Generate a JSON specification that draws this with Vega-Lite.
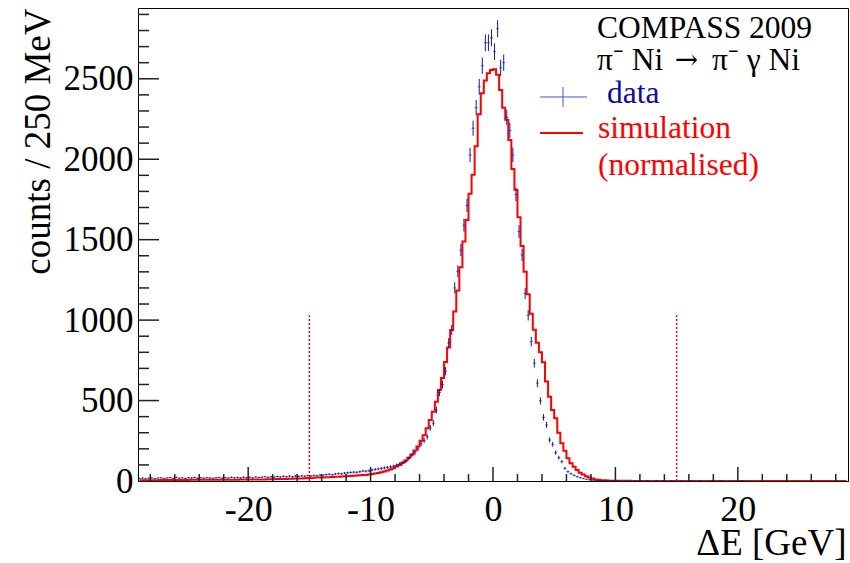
{
"$schema": "https://vega.github.io/schema/vega-lite/v6.json",
"width": 710, "height": 473,
"autosize": {"type": "none"},
"padding": {"left": 138, "top": 8, "right": 2, "bottom": 82},
"background": "white",
"config": {"font": "Liberation Serif", "view": {"stroke": "black", "strokeWidth": 1}, "axis": {"grid": false, "domainColor": "black", "labelColor": "black", "titleColor": "black", "titleFontWeight": "normal", "labelFont": "Liberation Serif", "titleFont": "Liberation Serif"}},
"data": {"values": [{}]},
"datasets": {
"h": [
{"x":-28.875,"d":16,"e":4,"s":5},{"x":-28.625,"d":18,"e":4.2,"s":5},{"x":-28.375,"d":14,"e":3.7,"s":5},{"x":-28.125,"d":17,"e":4.1,"s":5},{"x":-27.875,"d":19,"e":4.4,"s":5},{"x":-27.625,"d":15,"e":3.9,"s":5},{"x":-27.375,"d":18,"e":4.2,"s":5},{"x":-27.125,"d":20,"e":4.5,"s":6},{"x":-26.875,"d":16,"e":4,"s":6},{"x":-26.625,"d":19,"e":4.4,"s":6},{"x":-26.375,"d":21,"e":4.6,"s":6},{"x":-26.125,"d":17,"e":4.1,"s":6},{"x":-25.875,"d":22,"e":4.7,"s":6},{"x":-25.625,"d":18,"e":4.2,"s":6},{"x":-25.375,"d":20,"e":4.5,"s":6},{"x":-25.125,"d":16,"e":4,"s":6},{"x":-24.875,"d":21,"e":4.6,"s":6},{"x":-24.625,"d":19,"e":4.4,"s":7},{"x":-24.375,"d":22,"e":4.7,"s":7},{"x":-24.125,"d":17,"e":4.1,"s":7},{"x":-23.875,"d":20,"e":4.5,"s":7},{"x":-23.625,"d":18,"e":4.2,"s":7},{"x":-23.375,"d":21,"e":4.6,"s":7},{"x":-23.125,"d":19,"e":4.4,"s":7},{"x":-22.875,"d":17,"e":4.1,"s":7},{"x":-22.625,"d":20,"e":4.5,"s":7},{"x":-22.375,"d":22,"e":4.7,"s":7},{"x":-22.125,"d":18,"e":4.2,"s":8},{"x":-21.875,"d":21,"e":4.6,"s":8},{"x":-21.625,"d":19,"e":4.4,"s":8},{"x":-21.375,"d":23,"e":4.8,"s":8},{"x":-21.125,"d":20,"e":4.5,"s":8},{"x":-20.875,"d":22,"e":4.7,"s":8},{"x":-20.625,"d":19,"e":4.4,"s":9},{"x":-20.375,"d":24,"e":4.9,"s":9},{"x":-20.125,"d":21,"e":4.6,"s":9},
{"x":-19.875,"d":23,"e":4.8,"s":9},{"x":-19.625,"d":20,"e":4.5,"s":9},{"x":-19.375,"d":25,"e":5,"s":10},{"x":-19.125,"d":22,"e":4.7,"s":10},{"x":-18.875,"d":24,"e":4.9,"s":10},{"x":-18.625,"d":27,"e":5.2,"s":10},{"x":-18.375,"d":23,"e":4.8,"s":11},{"x":-18.125,"d":26,"e":5.1,"s":11},{"x":-17.875,"d":24,"e":4.9,"s":11},{"x":-17.625,"d":28,"e":5.3,"s":12},{"x":-17.375,"d":25,"e":5,"s":12},{"x":-17.125,"d":29,"e":5.4,"s":12},{"x":-16.875,"d":27,"e":5.2,"s":13},{"x":-16.625,"d":30,"e":5.5,"s":14},{"x":-16.375,"d":26,"e":5.1,"s":14},{"x":-16.125,"d":31,"e":5.6,"s":15},{"x":-15.875,"d":29,"e":5.4,"s":16},{"x":-15.625,"d":32,"e":5.7,"s":16},{"x":-15.375,"d":30,"e":5.5,"s":17},{"x":-15.125,"d":34,"e":5.8,"s":18},
{"x":-14.875,"d":32,"e":5.7,"s":19},{"x":-14.625,"d":35,"e":5.9,"s":20},{"x":-14.375,"d":33,"e":5.7,"s":21},{"x":-14.125,"d":37,"e":6.1,"s":21},{"x":-13.875,"d":36,"e":6,"s":22},{"x":-13.625,"d":40,"e":6.3,"s":23},{"x":-13.375,"d":42,"e":6.5,"s":24},{"x":-13.125,"d":39,"e":6.2,"s":25},{"x":-12.875,"d":44,"e":6.6,"s":26},{"x":-12.625,"d":46,"e":6.8,"s":27},{"x":-12.375,"d":45,"e":6.7,"s":28},{"x":-12.125,"d":49,"e":7,"s":29},{"x":-11.875,"d":51,"e":7.1,"s":30},{"x":-11.625,"d":53,"e":7.3,"s":31},{"x":-11.375,"d":55,"e":7.4,"s":33},{"x":-11.125,"d":54,"e":7.3,"s":34},{"x":-10.875,"d":58,"e":7.6,"s":35},{"x":-10.625,"d":62,"e":7.9,"s":37},{"x":-10.375,"d":61,"e":7.8,"s":38},{"x":-10.125,"d":64,"e":8,"s":40},
{"x":-9.875,"d":68,"e":8.2,"s":43},{"x":-9.625,"d":72,"e":8.5,"s":46},{"x":-9.375,"d":75,"e":8.7,"s":50},{"x":-9.125,"d":78,"e":8.8,"s":54},{"x":-8.875,"d":82,"e":9.1,"s":59},{"x":-8.625,"d":85,"e":9.2,"s":65},{"x":-8.375,"d":88,"e":9.4,"s":72},{"x":-8.125,"d":92,"e":9.6,"s":80},
{"x":-7.875,"d":98,"e":9.9,"s":90},{"x":-7.625,"d":106,"e":10.3,"s":100},{"x":-7.375,"d":112,"e":10.6,"s":113},{"x":-7.125,"d":122,"e":11,"s":128},{"x":-6.875,"d":141,"e":11.9,"s":145},{"x":-6.625,"d":160,"e":12.6,"s":165},{"x":-6.375,"d":176,"e":13.3,"s":190},{"x":-6.125,"d":200,"e":14.1,"s":215},{"x":-5.875,"d":232,"e":15.2,"s":250},{"x":-5.625,"d":252,"e":15.9,"s":285},{"x":-5.375,"d":274,"e":16.6,"s":328},{"x":-5.125,"d":330,"e":18.2,"s":379},{"x":-4.875,"d":360,"e":19,"s":431},{"x":-4.625,"d":441,"e":21,"s":493},{"x":-4.375,"d":550,"e":23.5,"s":566},{"x":-4.125,"d":600,"e":24.5,"s":640},{"x":-3.875,"d":682,"e":26.1,"s":740},{"x":-3.625,"d":858,"e":29.3,"s":830},{"x":-3.375,"d":939,"e":30.6,"s":939},{"x":-3.125,"d":1200,"e":34.6,"s":1053},{"x":-2.875,"d":1304,"e":36.1,"s":1184},{"x":-2.625,"d":1435,"e":37.9,"s":1329},{"x":-2.375,"d":1590,"e":39.9,"s":1488},{"x":-2.125,"d":1713,"e":41.4,"s":1623},{"x":-1.875,"d":2027,"e":45,"s":1785},{"x":-1.625,"d":2193,"e":46.8,"s":1903},{"x":-1.375,"d":2320,"e":48.2,"s":2080},{"x":-1.125,"d":2450,"e":49.5,"s":2280},{"x":-0.875,"d":2581,"e":50.8,"s":2410},{"x":-0.625,"d":2724,"e":52.2,"s":2490},{"x":-0.375,"d":2724,"e":52.2,"s":2535},{"x":-0.125,"d":2755,"e":52.5,"s":2555},
{"x":0.125,"d":2668,"e":51.7,"s":2560},{"x":0.375,"d":2811,"e":53,"s":2525},{"x":0.625,"d":2568,"e":50.7,"s":2430},{"x":0.875,"d":2600,"e":51,"s":2320},{"x":1.125,"d":2260,"e":47.5,"s":2245},{"x":1.375,"d":2179,"e":46.7,"s":2120},{"x":1.625,"d":2027,"e":45,"s":1940},{"x":1.875,"d":1781,"e":42.2,"s":1810},{"x":2.125,"d":1550,"e":39.4,"s":1640},{"x":2.375,"d":1405,"e":37.5,"s":1460},{"x":2.625,"d":1165,"e":34.1,"s":1300},{"x":2.875,"d":1030,"e":32.1,"s":1160},{"x":3.125,"d":866,"e":29.4,"s":1040},{"x":3.375,"d":732,"e":27.1,"s":940},{"x":3.625,"d":608,"e":24.7,"s":860},{"x":3.875,"d":498,"e":22.3,"s":800},{"x":4.125,"d":396,"e":19.9,"s":738},{"x":4.375,"d":348,"e":18.7,"s":618},{"x":4.625,"d":255,"e":16,"s":524},{"x":4.875,"d":228,"e":15.1,"s":441},{"x":5.125,"d":176,"e":13.3,"s":390},{"x":5.375,"d":145,"e":12,"s":300},{"x":5.625,"d":120,"e":11,"s":234},{"x":5.875,"d":79,"e":8.9,"s":188},{"x":6.125,"d":58,"e":7.6,"s":141},{"x":6.375,"d":45,"e":6.7,"s":110},{"x":6.625,"d":35,"e":5.9,"s":89},{"x":6.875,"d":27,"e":5.2,"s":68},{"x":7.125,"d":20,"e":4.5,"s":52},{"x":7.375,"d":15,"e":3.9,"s":40},{"x":7.625,"d":11,"e":3.3,"s":30},{"x":7.875,"d":8,"e":2.8,"s":22},{"x":8.125,"d":6,"e":2.4,"s":15},{"x":8.375,"d":4,"e":2,"s":10},{"x":8.625,"d":3,"e":1.7,"s":7},{"x":8.875,"d":2,"e":1.4,"s":5},{"x":9.125,"d":2,"e":1.4,"s":4},{"x":9.375,"d":1,"e":1,"s":3},{"x":9.625,"d":1,"e":1,"s":2},{"x":9.875,"d":1,"e":1,"s":2},
{"x":10.125,"d":1,"e":1,"s":1.5},{"x":10.375,"d":1,"e":1,"s":1.2},{"x":10.625,"d":0,"e":0,"s":1},{"x":10.875,"d":1,"e":1,"s":1},{"x":11.125,"d":1,"e":1,"s":0.8},{"x":11.375,"d":0,"e":0,"s":0.7},{"x":11.625,"d":1,"e":1,"s":0.6},{"x":11.875,"d":0,"e":0,"s":0.5},{"x":12.125,"d":1,"e":1,"s":0.5},{"x":12.375,"d":0,"e":0,"s":0.4},{"x":12.625,"d":1,"e":1,"s":0.4},{"x":12.875,"d":0,"e":0,"s":0.3},{"x":13.125,"d":0,"e":0,"s":0.3},{"x":13.375,"d":1,"e":1,"s":0.3},{"x":13.625,"d":0,"e":0,"s":0.2},{"x":13.875,"d":1,"e":1,"s":0.2},{"x":14.125,"d":0,"e":0,"s":0.2},{"x":14.375,"d":0,"e":0,"s":0.2},{"x":14.625,"d":1,"e":1,"s":0.1},{"x":14.875,"d":0,"e":0,"s":0.1},{"x":15.125,"d":0,"e":0,"s":0.1},{"x":15.375,"d":1,"e":1,"s":0.1},{"x":15.625,"d":0,"e":0,"s":0.1},{"x":15.875,"d":0,"e":0,"s":0.1},{"x":16.125,"d":1,"e":1,"s":0},{"x":16.375,"d":0,"e":0,"s":0},{"x":16.625,"d":0,"e":0,"s":0},{"x":16.875,"d":1,"e":1,"s":0},{"x":17.125,"d":0,"e":0,"s":0},{"x":17.375,"d":0,"e":0,"s":0},{"x":17.625,"d":0,"e":0,"s":0},{"x":17.875,"d":1,"e":1,"s":0},{"x":18.125,"d":0,"e":0,"s":0},{"x":18.375,"d":0,"e":0,"s":0},{"x":18.625,"d":1,"e":1,"s":0},{"x":18.875,"d":0,"e":0,"s":0},{"x":19.125,"d":0,"e":0,"s":0},{"x":19.375,"d":0,"e":0,"s":0},{"x":19.625,"d":1,"e":1,"s":0},{"x":19.875,"d":0,"e":0,"s":0},{"x":20.125,"d":0,"e":0,"s":0},{"x":20.375,"d":1,"e":1,"s":0},{"x":20.625,"d":0,"e":0,"s":0},{"x":20.875,"d":0,"e":0,"s":0},{"x":21.125,"d":0,"e":0,"s":0},{"x":21.375,"d":0,"e":0,"s":0},{"x":21.625,"d":0,"e":0,"s":0},{"x":21.875,"d":0,"e":0,"s":0},{"x":22.125,"d":0,"e":0,"s":0},{"x":22.375,"d":0,"e":0,"s":0},{"x":22.625,"d":0,"e":0,"s":0},{"x":22.875,"d":0,"e":0,"s":0},{"x":23.125,"d":0,"e":0,"s":0},{"x":23.375,"d":0,"e":0,"s":0},{"x":23.625,"d":0,"e":0,"s":0},{"x":23.875,"d":0,"e":0,"s":0},{"x":24.125,"d":0,"e":0,"s":0},{"x":24.375,"d":0,"e":0,"s":0},{"x":24.625,"d":0,"e":0,"s":0},{"x":24.875,"d":0,"e":0,"s":0},{"x":25.125,"d":0,"e":0,"s":0},{"x":25.375,"d":0,"e":0,"s":0},{"x":25.625,"d":0,"e":0,"s":0},{"x":25.875,"d":0,"e":0,"s":0},{"x":26.125,"d":0,"e":0,"s":0},{"x":26.375,"d":0,"e":0,"s":0},{"x":26.625,"d":0,"e":0,"s":0},{"x":26.875,"d":0,"e":0,"s":0},{"x":27.125,"d":0,"e":0,"s":0},{"x":27.375,"d":0,"e":0,"s":0},{"x":27.625,"d":0,"e":0,"s":0},{"x":27.875,"d":0,"e":0,"s":0},{"x":28.125,"d":0,"e":0,"s":0},{"x":28.375,"d":0,"e":0,"s":0},{"x":28.625,"d":0,"e":0,"s":0},{"x":28.875,"d":0,"e":0,"s":0}
],
"cuts": [{"x": -15}, {"x": 15}],
"xmaj": [{"v": -20}, {"v": -10}, {"v": 0}, {"v": 10}, {"v": 20}],
"xmin": [{"v": -28}, {"v": -26}, {"v": -24}, {"v": -22}, {"v": -18}, {"v": -16}, {"v": -14}, {"v": -12}, {"v": -8}, {"v": -6}, {"v": -4}, {"v": -2}, {"v": 2}, {"v": 4}, {"v": 6}, {"v": 8}, {"v": 12}, {"v": 14}, {"v": 16}, {"v": 18}, {"v": 22}, {"v": 24}, {"v": 26}, {"v": 28}],
"ymaj": [{"v": 500}, {"v": 1000}, {"v": 1500}, {"v": 2000}, {"v": 2500}],
"ymin": [{"v": 100}, {"v": 200}, {"v": 300}, {"v": 400}, {"v": 600}, {"v": 700}, {"v": 800}, {"v": 900}, {"v": 1100}, {"v": 1200}, {"v": 1300}, {"v": 1400}, {"v": 1600}, {"v": 1700}, {"v": 1800}, {"v": 1900}, {"v": 2100}, {"v": 2200}, {"v": 2300}, {"v": 2400}, {"v": 2600}, {"v": 2700}, {"v": 2800}, {"v": 2900}]
},
"resolve": {"axis": {"x": "independent", "y": "independent"}},
"layer": [
{"data": {"name": "h"},
 "mark": {"type": "line", "interpolate": "step", "color": "#ff0000", "strokeWidth": 2, "clip": true},
 "encoding": {
  "x": {"field": "x", "type": "quantitative", "scale": {"domain": [-29, 29], "nice": false, "zero": false},
        "axis": {"orient": "bottom", "values": [-20, -10, 0, 10, 20], "format": "d", "labelExpr": "replace(datum.label, '\u2212', '-')", "ticks": false, "domainWidth": 1, "labelFontSize": 36, "labelPadding": 11, "labelFlush": false,
                 "title": "ΔE [GeV]", "titleFontSize": 37, "titleX": 708, "titleY": 73, "titleAlign": "right", "titleAnchor": "end", "titleBaseline": "alphabetic"}},
  "y": {"field": "s", "type": "quantitative", "scale": {"domain": [0, 2940], "nice": false},
        "axis": {"orient": "left", "values": [0, 500, 1000, 1500, 2000, 2500], "format": "d", "ticks": false, "domainWidth": 1, "labelFontSize": 35, "labelPadding": 5, "labelFlush": false,
                 "title": "counts / 250 MeV", "titleFontSize": 37, "titleAngle": -90, "titleX": -100, "titleY": 0, "titleAlign": "right", "titleBaseline": "middle"}}
 }},
{"data": {"name": "xmaj"}, "mark": {"type": "rule", "color": "#222222", "strokeWidth": 1.5},
 "encoding": {"x": {"field": "v", "type": "quantitative", "axis": null}, "y": {"datum": 0, "type": "quantitative", "axis": null}, "y2": {"datum": 87}}},
{"data": {"name": "xmin"}, "mark": {"type": "rule", "color": "#222222", "strokeWidth": 1.5},
 "encoding": {"x": {"field": "v", "type": "quantitative", "axis": null}, "y": {"datum": 0, "type": "quantitative", "axis": null}, "y2": {"datum": 43}}},
{"data": {"name": "ymaj"}, "mark": {"type": "rule", "color": "#222222", "strokeWidth": 1.5},
 "encoding": {"y": {"field": "v", "type": "quantitative", "axis": null}, "x": {"datum": -29, "type": "quantitative", "axis": null}, "x2": {"datum": -27.28}}},
{"data": {"name": "ymin"}, "mark": {"type": "rule", "color": "#222222", "strokeWidth": 1.5},
 "encoding": {"y": {"field": "v", "type": "quantitative", "axis": null}, "x": {"datum": -29, "type": "quantitative", "axis": null}, "x2": {"datum": -28.1}}},
{"data": {"name": "h"},
 "transform": [{"filter": "datum.d > 0"}],
 "mark": {"type": "errorbar", "color": "#1a1aa0", "thickness": 1},
 "encoding": {
  "x": {"field": "x", "type": "quantitative", "axis": null},
  "y": {"field": "d", "type": "quantitative", "axis": null},
  "yError": {"field": "e"}
 }},
{"data": {"name": "h"},
 "transform": [{"filter": "datum.d > 0"}],
 "mark": {"type": "tick", "orient": "horizontal", "size": 3, "thickness": 1, "color": "#1a1aa0"},
 "encoding": {
  "x": {"field": "x", "type": "quantitative", "axis": null},
  "y": {"field": "d", "type": "quantitative", "axis": null}
 }},
{"data": {"name": "cuts"},
 "mark": {"type": "rule", "color": "#ff0000", "strokeDash": [2, 2], "strokeWidth": 1.5},
 "encoding": {
  "x": {"field": "x", "type": "quantitative", "axis": null},
  "y": {"datum": 0, "type": "quantitative", "axis": null},
  "y2": {"datum": 1030}
 }},
{"mark": {"type": "rule", "color": "#4a58c8", "strokeWidth": 1},
 "encoding": {"x": {"datum": 3.84, "type": "quantitative", "axis": null}, "x2": {"datum": 7.68}, "y": {"datum": 2387, "type": "quantitative", "axis": null}}},
{"mark": {"type": "rule", "color": "#4a58c8", "strokeWidth": 1},
 "encoding": {"x": {"datum": 5.72, "type": "quantitative", "axis": null}, "y": {"datum": 2325, "type": "quantitative", "axis": null}, "y2": {"datum": 2449}}},
{"mark": {"type": "rule", "color": "#ff0000", "strokeWidth": 2},
 "encoding": {"x": {"datum": 3.84, "type": "quantitative", "axis": null}, "x2": {"datum": 7.35}, "y": {"datum": 2163, "type": "quantitative", "axis": null}}},
{"mark": {"type": "text", "text": "COMPASS 2009", "align": "left", "baseline": "alphabetic", "fontSize": 31.5, "font": "Liberation Serif", "color": "black"},
 "encoding": {"x": {"datum": 8.5, "type": "quantitative", "axis": null}, "y": {"datum": 2753, "type": "quantitative", "axis": null}}},
{"mark": {"type": "text", "text": "π⁻ Ni", "align": "left", "baseline": "alphabetic", "fontSize": 31.5, "font": "Liberation Serif", "color": "black"},
 "encoding": {"x": {"datum": 8.5, "type": "quantitative", "axis": null}, "y": {"datum": 2555, "type": "quantitative", "axis": null}}},
{"mark": {"type": "text", "text": "→", "align": "left", "baseline": "alphabetic", "fontSize": 28, "font": "DejaVu Serif", "color": "black"},
 "encoding": {"x": {"datum": 14.85, "type": "quantitative", "axis": null}, "y": {"datum": 2560, "type": "quantitative", "axis": null}}},
{"mark": {"type": "text", "text": "π⁻ γ Ni", "align": "left", "baseline": "alphabetic", "fontSize": 31.5, "font": "Liberation Serif", "color": "black"},
 "encoding": {"x": {"datum": 17.89, "type": "quantitative", "axis": null}, "y": {"datum": 2555, "type": "quantitative", "axis": null}}},
{"mark": {"type": "text", "text": "data", "align": "left", "baseline": "alphabetic", "fontSize": 31.5, "font": "Liberation Serif", "color": "#0c0ca0"},
 "encoding": {"x": {"datum": 9.31, "type": "quantitative", "axis": null}, "y": {"datum": 2349, "type": "quantitative", "axis": null}}},
{"mark": {"type": "text", "text": "simulation", "align": "left", "baseline": "alphabetic", "fontSize": 31.5, "font": "Liberation Serif", "color": "#ff0000"},
 "encoding": {"x": {"datum": 8.58, "type": "quantitative", "axis": null}, "y": {"datum": 2132, "type": "quantitative", "axis": null}}},
{"mark": {"type": "text", "text": "(normalised)", "align": "left", "baseline": "alphabetic", "fontSize": 31.5, "font": "Liberation Serif", "color": "#ff0000"},
 "encoding": {"x": {"datum": 8.58, "type": "quantitative", "axis": null}, "y": {"datum": 1902, "type": "quantitative", "axis": null}}}
]
}
